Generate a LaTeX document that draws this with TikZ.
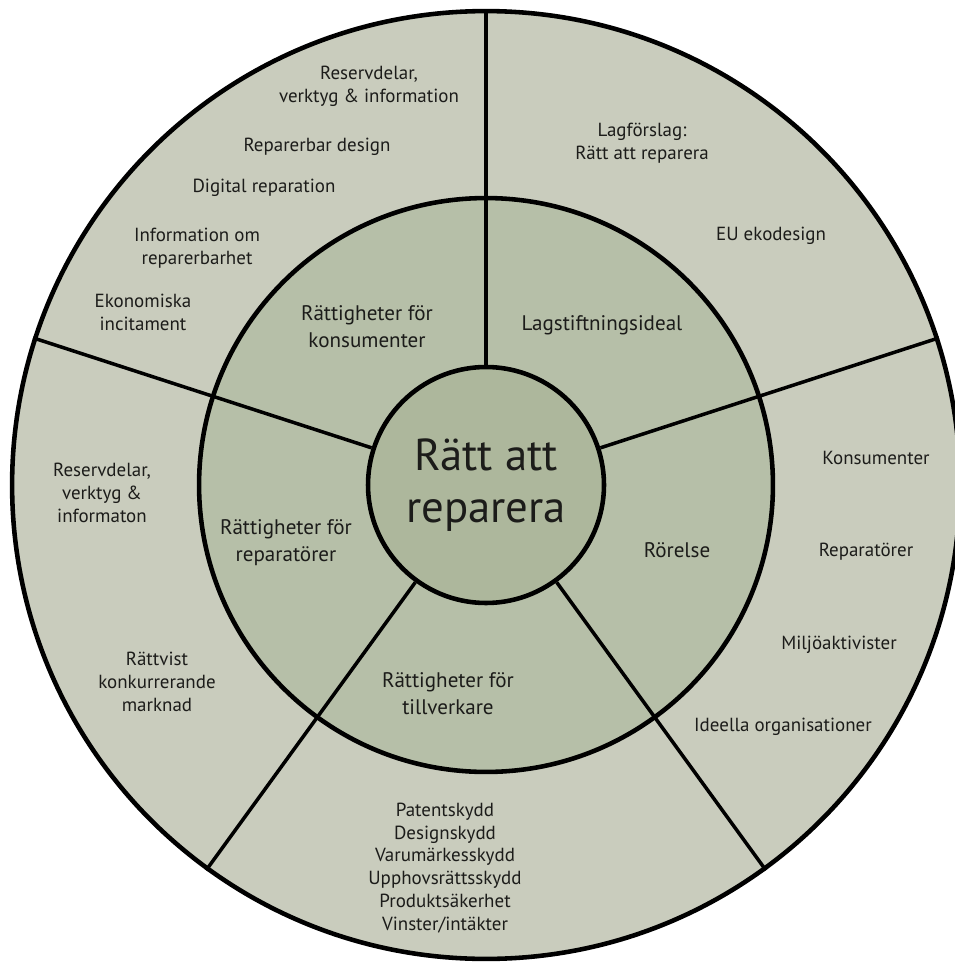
\documentclass[tikz,border=0pt]{standalone}
\usepackage{fontspec}
\setmainfont{PT Sans}
\definecolor{rimfill}{HTML}{C9CCBD}
\definecolor{ringfill}{HTML}{B6BFA8}
\definecolor{hubfill}{HTML}{ADB79C}
\definecolor{ink}{HTML}{1C1C1A}

\tikzstyle{disc} = [circle, draw = black, line width=2.6pt, inner sep=0pt]
\tikzstyle{divider} = [line width=2pt]
\tikzstyle{item} = [align=center, text=ink, font=\fontsize{10.8}{13}\selectfont]
\tikzstyle{area} = [align=center, text=ink, font=\fontsize{12}{15.5}\selectfont]

\begin{document}
\begin{tikzpicture}[x=0.02cm, y=-0.02cm]
	\useasboundingbox (0,0) rectangle (955,963);
	\coordinate (c) at (486,485);
	\node (rim) [disc, fill=rimfill, minimum size=18.96cm] at (c) {};
	\node (ring) [disc, fill=ringfill, minimum size=11.48cm] at (c) {};
	\node (hub) [disc, fill=hubfill, minimum size=4.72cm, align=center, text=ink, font=\fontsize{25.5}{30}\selectfont] at (c) {Rätt att\\reparera};
	
	\foreach \a in {18,90,162,234,306}
		\draw [divider] (hub.\a) -- (rim.\a);
	
	% inner ring
	\node (konsumenter) [area] at (367,327) {Rättigheter för\\konsumenter};
	\node (lag) [area] at (602,325) {Lagstiftningsideal};
	\node (rorelse) [area] at (677,550) {Rörelse};
	\node (tillverkare) [area] at (448,694) {Rättigheter för\\tillverkare};
	\node (reparatorer) [area] at (286,543) {Rättigheter för\\reparatörer};
	
	% outer ring, consumers
	\node (kdelar) [item] at (369,86) {Reservdelar,\\verktyg \& information};
	\node (kdesign) [item] at (317,147) {Reparerbar design};
	\node (kdigital) [item] at (264,188) {Digital reparation};
	\node (kinfo) [item] at (197,248) {Information om\\reparerbarhet};
	\node (keko) [item] at (143,312) {Ekonomiska\\incitament};
	
	% outer ring, legislation
	\node (lforslag) [item] at (642,143) {Lagförslag:\\Rätt att reparera};
	\node (leu) [item] at (771,236) {EU ekodesign};
	
	% outer ring, movement
	\node (rkons) [item] at (876,458) {Konsumenter};
	\node (rrep) [item] at (866,552) {Reparatörer};
	\node (rmiljo) [item] at (839,645) {Miljöaktivister};
	\node (rideell) [item] at (783,727) {Ideella organisationer};
	
	% outer ring, manufacturers
	\node (tskydd) [item] at (445,868) {Patentskydd\\Designskydd\\Varumärkesskydd\\Upphovsrättsskydd\\Produktsäkerhet\\Vinster/intäkter};
	
	% outer ring, repairers
	\node (pdelar) [item] at (102,493) {Reservdelar,\\verktyg \&\\informaton};
	\node (pmarknad) [item] at (157,682) {Rättvist\\konkurrerande\\marknad};
\end{tikzpicture}
\end{document}
